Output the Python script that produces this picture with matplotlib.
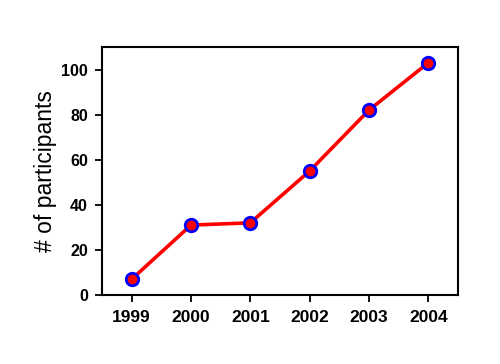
import matplotlib
matplotlib.use("Agg")
import matplotlib.pyplot as plt

years = [1999, 2000, 2001, 2002, 2003, 2004]
participants = [7, 31, 32, 55, 82, 103]
yticks = [0, 20, 40, 60, 80, 100]

plt.rcParams['font.family'] = ['Liberation Sans', 'DejaVu Sans']

fig = plt.figure(figsize=(5.0, 3.64), dpi=100)
ax = fig.add_axes([0.204, 0.1896, 0.712, 0.6814])
ax.plot(years, participants, color='#ff0000', lw=2.6, marker='o', ms=9,
        markerfacecolor='#ff0000', markeredgecolor='#0000ff', mew=2, zorder=3)
ax.set_xlim(1998.5, 2004.5)
ax.set_ylim(0, 110)
ax.set_xticks(years)
ax.set_xticklabels([str(y) for y in years], fontweight='bold', fontsize=12.5)
ax.set_yticks(yticks)
ax.set_yticklabels([str(v) for v in yticks], fontweight='bold', fontsize=11.5)
ax.tick_params(direction='out', length=5, width=1.3, top=False, right=False)
ax.tick_params(axis='x', pad=6)
ax.tick_params(axis='y', pad=5)
for s in ax.spines.values():
    s.set_linewidth(1.5)
ax.set_ylabel('# of participants', fontsize=16.5, labelpad=3)
fig.savefig('out.png', dpi=100)
